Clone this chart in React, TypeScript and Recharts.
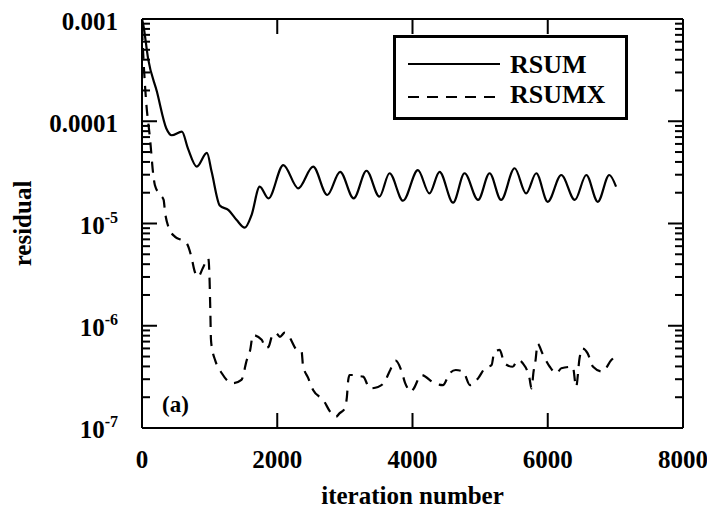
import React from 'react';
import { LineChart, Line, XAxis, YAxis, Legend } from 'recharts';

const FONT = '"Liberation Serif", "Times New Roman", Times, serif';

const rsumIter = [0, 20, 90, 220, 360, 440, 590, 680, 810, 960,
  1030, 1150, 1280, 1400, 1520, 1620, 1740, 1870, 2090, 2310,
  2530, 2740, 2930, 3130, 3320, 3510, 3660, 3860, 4080, 4250,
  4400, 4600, 4770, 4970, 5140, 5310, 5510, 5680, 5830, 6000,
  6200, 6400, 6570, 6740, 6910, 7010];
const rsumVal = [1.0e-3, 8.7e-4, 4.1e-4, 1.95e-4, 8.5e-5, 7.3e-5, 7.9e-5, 5.4e-5, 3.6e-5, 4.9e-5,
  3.2e-5, 1.5e-5, 1.35e-5, 1.08e-5, 9.1e-6, 1.21e-5, 2.29e-5, 1.76e-5, 3.73e-5, 2.21e-5,
  3.6e-5, 1.9e-5, 3.2e-5, 1.76e-5, 3.28e-5, 1.83e-5, 3.1e-5, 1.67e-5, 3.33e-5, 1.97e-5,
  3.2e-5, 1.6e-5, 3.1e-5, 1.7e-5, 3.1e-5, 1.7e-5, 3.47e-5, 1.97e-5, 3.1e-5, 1.63e-5,
  2.98e-5, 1.7e-5, 2.98e-5, 1.63e-5, 2.98e-5, 2.29e-5];

const rsumxIter = [0, 30, 60, 120, 170, 190, 270, 320, 340, 390,
  490, 580, 660, 730, 780, 830, 900, 980, 1000, 1010,
  1020, 1040, 1080, 1180, 1270, 1350, 1470, 1550, 1600, 1640,
  1770, 1830, 1870, 1920, 1980, 2040, 2110, 2160, 2290, 2360,
  2380, 2460, 2530, 2680, 2800, 2870, 2920, 3000, 3030, 3050,
  3070, 3120, 3190, 3270, 3370, 3490, 3590, 3660, 3750, 3840,
  3890, 3930, 3980, 4020, 4130, 4330, 4450, 4550, 4640, 4750,
  4850, 4970, 5070, 5170, 5210, 5290, 5360, 5480, 5560, 5630,
  5730, 5760, 5790, 5820, 5850, 5920, 6030, 6130, 6200, 6370,
  6420, 6470, 6510, 6590, 6670, 6810, 6940, 6990];
const rsumxVal = [8e-4, 3.2e-4, 1.6e-4, 6.6e-5, 2.87e-5, 2.38e-5, 1.9e-5, 1.7e-5, 1.3e-5, 9.3e-6,
  7.4e-6, 6.9e-6, 6.4e-6, 4.73e-6, 3.38e-6, 3.02e-6, 3.67e-6, 4.57e-6, 2.7e-6, 1.43e-6,
  7.3e-7, 5.8e-7, 4.63e-7, 3.43e-7, 2.88e-7, 2.74e-7, 2.95e-7, 4.63e-7, 5.8e-7, 8.1e-7,
  7.3e-7, 6.05e-7, 6.2e-7, 7.8e-7, 8.5e-7, 7.8e-7, 8.55e-7, 8.1e-7, 5.8e-7, 5.6e-7,
  4.13e-7, 3.06e-7, 2.35e-7, 1.88e-7, 1.39e-7, 1.29e-7, 1.39e-7, 1.56e-7, 2.02e-7, 2.95e-7,
  3.3e-7, 3.3e-7, 3.23e-7, 3.18e-7, 2.44e-7, 2.52e-7, 2.84e-7, 3.56e-7, 4.55e-7, 3.56e-7,
  2.76e-7, 2.44e-7, 2.26e-7, 2.44e-7, 3.3e-7, 2.73e-7, 2.63e-7, 3.43e-7, 3.69e-7, 3.56e-7,
  2.63e-7, 3.06e-7, 3.84e-7, 4.13e-7, 5.57e-7, 5.8e-7, 4.3e-7, 3.97e-7, 4.62e-7, 4.3e-7,
  3.06e-7, 2.44e-7, 3.56e-7, 4.62e-7, 6.7e-7, 5.37e-7, 3.97e-7, 3.43e-7, 3.84e-7, 3.97e-7,
  2.53e-7, 4.81e-7, 6.0e-7, 5.37e-7, 3.97e-7, 3.56e-7, 4.62e-7, 4.94e-7];

const xTicks = [0, 2000, 4000, 6000, 8000];
const yDecades = [1e-7, 1e-6, 1e-5, 1e-4, 1e-3];
const yMinorFactors = [2, 3, 4, 5, 6, 7, 8, 9];
const yLabelBase = ['10', '10', '10', '0.0001', '0.001'];
const yLabelExp = ['-7', '-6', '-5', '', ''];

const rsumData = rsumIter.map((iter, i) => ({ iter, v: rsumVal[i] }));
const rsumxData = rsumxIter.map((iter, i) => ({ iter, v: rsumxVal[i] }));
const yTicks = yDecades.flatMap((d, i) =>
  i < yDecades.length - 1 ? [d, ...yMinorFactors.map((f) => d * f)] : [d]
);

const isMajor = (v: number) => {
  const l = Math.log10(v);
  return Math.abs(l - Math.round(l)) < 1e-6;
};

const MAJOR = 15;
const MINOR = 8;
const TW = 2;

const LeftTick = (props: any) => {
  const x = Number(props.x);
  const y = Number(props.y);
  const v = props.payload.value;
  const major = isMajor(v);
  const ax = x + 24;
  const len = major ? MAJOR : MINOR;
  const idx = yDecades.findIndex((d) => Math.abs(Math.log10(d) - Math.log10(v)) < 1e-6);
  return (
    <g>
      <rect x={ax} y={y - TW / 2} width={len} height={TW} fill="#000" />
      {major && idx >= 0 ? (
        <text x={x} y={y} dy={yLabelExp[idx] ? 10 : 11} textAnchor="end" fontFamily={FONT} fontSize={25} fontWeight="bold" fill="#000">
          {yLabelBase[idx]}
          {yLabelExp[idx] ? (
            <tspan dy={-11} fontSize={16}>{yLabelExp[idx]}</tspan>
          ) : null}
        </text>
      ) : null}
    </g>
  );
};

const RightTick = (props: any) => {
  const x = Number(props.x);
  const y = Number(props.y);
  const len = isMajor(props.payload.value) ? MAJOR : MINOR;
  return (
    <g>
      <rect x={x - len} y={y - TW / 2} width={len} height={TW} fill="#000" />
    </g>
  );
};

const BottomTick = (props: any) => {
  const x = Number(props.x);
  const y = Number(props.y);
  const ay = y - 31;
  return (
    <g>
      <rect x={x - TW / 2} y={ay - MAJOR} width={TW} height={MAJOR} fill="#000" />
      <text x={x} y={y} dy={9} textAnchor="middle" fontFamily={FONT} fontSize={25} fontWeight="bold" fill="#000">
        {props.payload.value}
      </text>
    </g>
  );
};

const TopTick = (props: any) => {
  const x = Number(props.x);
  const y = Number(props.y);
  return (
    <g>
      <rect x={x - TW / 2} y={y} width={TW} height={MAJOR} fill="#000" />
    </g>
  );
};

const LegendBox = (props: any) => {
  const payload = props.payload || [];
  return (
    <div style={{ width: 235, height: 85, border: '3px solid #000', boxSizing: 'border-box', background: '#fff' }}>
      <svg width={229} height={79} style={{ display: 'block' }}>
        {payload.map((entry: any, i: number) => {
          const ly = i === 0 ? 26 : 59;
          const ty = i === 0 ? 35 : 65;
          const dash = entry.payload && entry.payload.strokeDasharray;
          return (
            <g key={i}>
              <line x1={12} x2={104} y1={ly} y2={ly} stroke="#000" strokeWidth={2} strokeDasharray={dash} />
              <text x={114} y={ty} fontFamily={FONT} fontSize={26} fontWeight="bold" fill="#000">{entry.value}</text>
            </g>
          );
        })}
      </svg>
    </div>
  );
};

const axisLine = { stroke: '#000', strokeWidth: 2 };

export default function App() {
  return (
    <div style={{ position: 'relative', width: 707, height: 505 }}>
      <LineChart width={707} height={505} margin={{ top: 0, right: 0, bottom: 0, left: 0 }}>
        <XAxis
          xAxisId="bottom"
          type="number"
          dataKey="iter"
          domain={[0, 8000]}
          ticks={xTicks}
          interval={0}
          allowDataOverflow
          height={85}
          tickSize={0}
          tickMargin={31}
          tickLine={false}
          axisLine={axisLine}
          tick={(p: any) => <BottomTick {...p} />}
          label={{ value: 'iteration number', position: 'insideBottom', offset: 9, style: { fontFamily: FONT, fontSize: 25, fontWeight: 'bold', fill: '#000' } }}
        />
        <XAxis
          xAxisId="top"
          orientation="top"
          type="number"
          dataKey="iter"
          domain={[0, 8000]}
          ticks={xTicks}
          interval={0}
          allowDataOverflow
          height={11}
          tickSize={0}
          tickMargin={0}
          tickLine={false}
          axisLine={axisLine}
          tick={(p: any) => <TopTick {...p} />}
        />
        <YAxis
          yAxisId="left"
          type="number"
          scale="log"
          domain={[1e-7, 1e-3]}
          ticks={yTicks}
          interval={0}
          allowDataOverflow
          width={134}
          tickSize={0}
          tickMargin={24}
          tickLine={false}
          axisLine={axisLine}
          tick={(p: any) => <LeftTick {...p} />}
          label={{ value: 'residual', angle: -90, position: 'insideLeft', offset: 14, style: { textAnchor: 'middle', fontFamily: FONT, fontSize: 25, fontWeight: 'bold', fill: '#000' } }}
        />
        <YAxis
          yAxisId="right"
          orientation="right"
          type="number"
          scale="log"
          domain={[1e-7, 1e-3]}
          ticks={yTicks}
          interval={0}
          allowDataOverflow
          width={32}
          tickSize={0}
          tickMargin={0}
          tickLine={false}
          axisLine={axisLine}
          tick={(p: any) => <RightTick {...p} />}
        />
        <Line
          xAxisId="bottom"
          yAxisId="left"
          data={rsumData}
          dataKey="v"
          name="RSUM"
          type="monotone"
          stroke="#000"
          strokeWidth={2.2}
          dot={false}
          isAnimationActive={false}
        />
        <Line
          xAxisId="top"
          yAxisId="right"
          data={rsumxData}
          dataKey="v"
          name="RSUMX"
          type="monotone"
          stroke="#000"
          strokeWidth={2.2}
          strokeDasharray="11 8"
          dot={false}
          isAnimationActive={false}
        />
        <Legend
          layout="vertical"
          align="center"
          verticalAlign="middle"
          content={(p: any) => <LegendBox {...p} />}
          wrapperStyle={{ position: 'absolute', left: 385, top: 27, width: 235, height: 85 }}
        />
      </LineChart>
      <div style={{ position: 'absolute', left: 154, top: 385, fontFamily: FONT, fontSize: 23, fontWeight: 'bold', lineHeight: 1, color: '#000' }}>
        (a)
      </div>
    </div>
  );
}
